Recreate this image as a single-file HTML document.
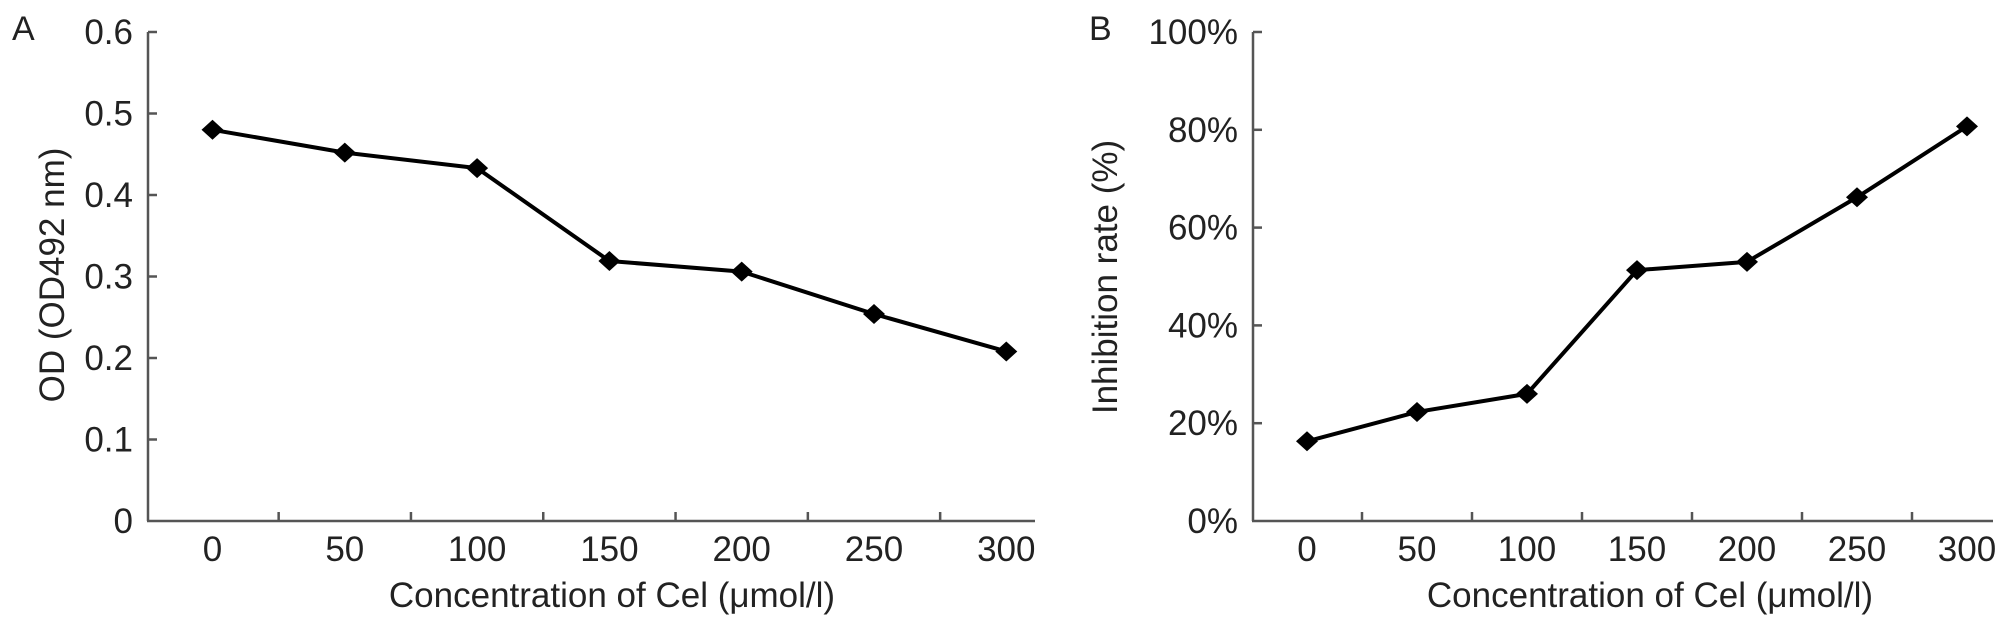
<!DOCTYPE html>
<html><head><meta charset="utf-8"><style>
html,body{margin:0;padding:0;background:#fff;}
svg{display:block;font-family:"Liberation Sans",Arial,sans-serif;}
</style></head><body>
<svg id="fig" width="2008" height="631" viewBox="0 0 2008 631" xmlns="http://www.w3.org/2000/svg"></svg>
<script>
const categories = ["0","50","100","150","200","250","300"];
const odValues = [0.480, 0.452, 0.433, 0.319, 0.306, 0.254, 0.208];
const inhibitionValues = [16.3, 22.3, 26.0, 51.3, 53.0, 66.2, 80.7];
const odTicks = [0, 0.1, 0.2, 0.3, 0.4, 0.5, 0.6];
const odTickLabels = ["0","0.1","0.2","0.3","0.4","0.5","0.6"];
const pctTicks = [0, 20, 40, 60, 80, 100];
const pctTickLabels = ["0%","20%","40%","60%","80%","100%"];

const NS = "http://www.w3.org/2000/svg";
const svg = document.getElementById("fig");
function mk(tag, attrs, parent){
  const e = document.createElementNS(NS, tag);
  for (const k in attrs) e.setAttribute(k, attrs[k]);
  (parent||svg).appendChild(e);
  return e;
}
const FS = 35;

function panel(opt){
  const g = mk("g", {});
  
  
  const y0 = 521, y1 = 32;
  const yScale = v => y0 - (v - opt.ymin) / (opt.ymax - opt.ymin) * (y0 - y1);
  const xScale = i => opt.firstCenter + i * opt.band;
  const axisColor = "#555";
  const ya = mk("line", {x1:opt.ax, y1:y1, x2:opt.ax, y2:y0, stroke:axisColor, "stroke-width":2.5}, g);
  
  
  const xa = mk("line", {x1:opt.ax-1, y1:y0, x2:opt.axEnd, y2:y0, stroke:axisColor, "stroke-width":2.5}, g);
  
  
  opt.yticks.forEach((t, i) => {
    const y = yScale(t);
    if (i > 0) {
      const tk = mk("line", {x1:opt.ax, y1:y, x2:opt.ax+9, y2:y, stroke:axisColor, "stroke-width":2.5}, g);
      
      
    }
    const tx = mk("text", {x:opt.ax-15, y:y+12, "text-anchor":"end", "font-size":FS, fill:"#222"}, g);
    tx.textContent = opt.ylabels[i];
    
    
  });
  for (let i = 0; i < categories.length - 1; i++) {
    const x = xScale(i) + opt.band / 2;
    const tk = mk("line", {x1:x, y1:y0, x2:x, y2:y0-9, stroke:axisColor, "stroke-width":2.5}, g);
    
    
  }
  categories.forEach((c, i) => {
    const tx = mk("text", {x:xScale(i), y:561, "text-anchor":"middle", "font-size":FS, fill:"#222"}, g);
    tx.textContent = c;
    
    
  });
  const pts = opt.values.map((v, i) => xScale(i) + "," + yScale(v)).join(" ");
  const line = mk("polyline", {points:pts, fill:"none", stroke:"#000", "stroke-width":4, "stroke-linejoin":"round"}, g);
  
  
  opt.values.forEach((v, i) => {
    const x = xScale(i), y = yScale(v);
    const d = mk("polygon", {points:`${x-11},${y} ${x},${y-10} ${x+11},${y} ${x},${y+10}`, fill:"#000"}, g);
    
    
  });
  const xt = mk("text", {x:opt.xTitleX, y:607, "text-anchor":"middle", "font-size":FS, fill:"#222"}, g);
  xt.textContent = "Concentration of Cel (\u03bcmol/l)";
  
  
  const yt = mk("text", {x:0, y:0, "text-anchor":"middle", "font-size":FS, fill:"#222", transform:`translate(${opt.yTitleX},${opt.yTitleY}) rotate(-90)`}, g);
  yt.textContent = opt.ytitle;
  
  
  const pl = mk("text", {x:opt.letterX, y:40, "font-size":34, fill:"#222"}, g);
  pl.textContent = opt.letter;
  
  
}

panel({name:"panel-a-chart", ax:148, axEnd:1035, firstCenter:212.5, band:132.3, ymin:0, ymax:0.6,
  yticks:odTicks, ylabels:odTickLabels, values:odValues, ytitle:"OD (OD492 nm)",
  yTitleX:64, yTitleY:275, xTitleX:612, letter:"A", letterX:12});
panel({name:"panel-b-chart", ax:1253, axEnd:1993, firstCenter:1307, band:110, ymin:0, ymax:100,
  yticks:pctTicks, ylabels:pctTickLabels, values:inhibitionValues, ytitle:"Inhibition rate (%)",
  yTitleX:1117, yTitleY:277, xTitleX:1650, letter:"B", letterX:1089});
</script>
</body></html>
